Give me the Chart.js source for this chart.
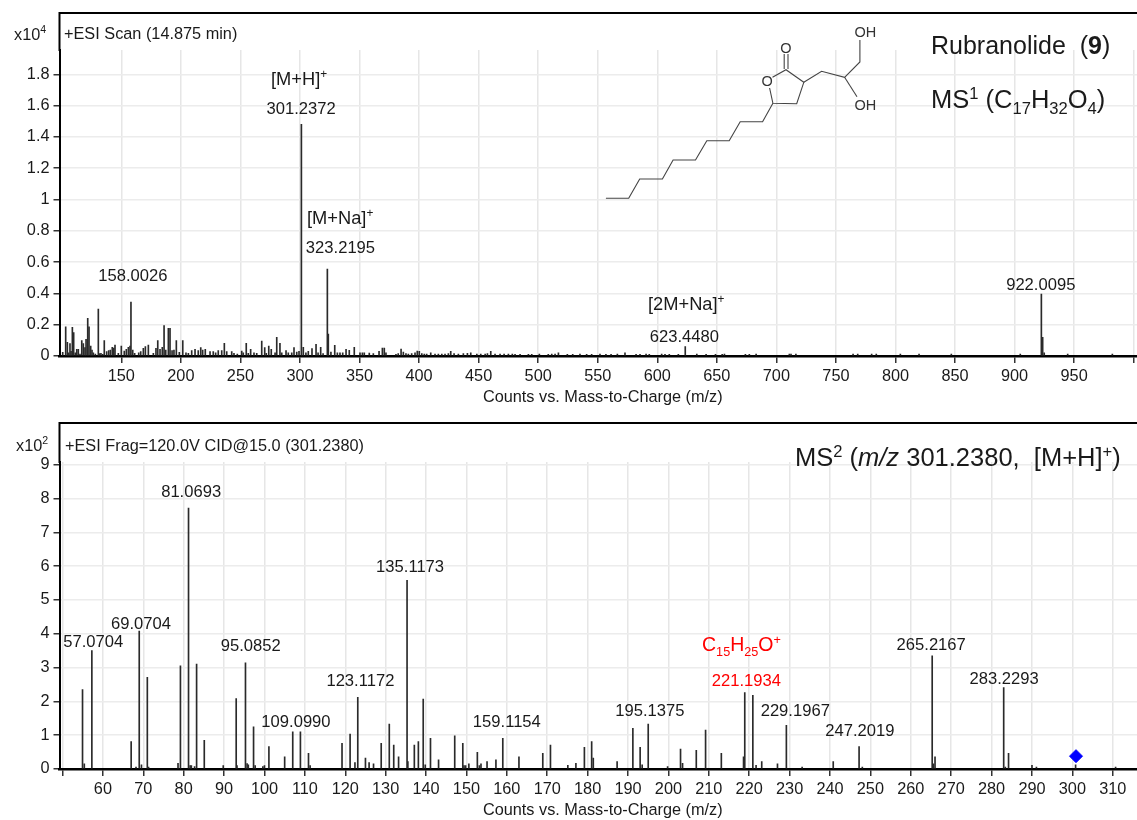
<!DOCTYPE html>
<html>
<head>
<meta charset="utf-8">
<title>Rubranolide (9)</title>
<script src="https://cdn.jsdelivr.net/npm/chart.js@4/dist/chart.umd.min.js"></script>
<style>
  html, body { margin: 0; padding: 0; background: #fff; }
  #page { position: relative; width: 1137px; height: 820px; overflow: hidden; font-family: "Liberation Sans", Arial, sans-serif; color: #1a1a1a; }
  canvas { position: absolute; left: 0; display: block; }
  .note { position: absolute; white-space: nowrap; transform: translateY(-50%); line-height: 1; }
  .note sup, .note sub { font-size: 65%; line-height: 0; }
  #structure { position: absolute; left: 0; top: 0; }
</style>
</head>
<body>
<div id="page">
  <canvas id="chartScan" width="1137" height="410" style="top:0"></canvas>
  <canvas id="chartFrag" width="1137" height="410" style="top:410px"></canvas>

  <svg id="structure" width="1137" height="410">
    <g fill="none" stroke="#444" stroke-width="1.1">
      <polyline points="605.9,198.3 628.7,198.3 639.7,179 662.4,179 673.1,160 695.5,160 706.8,140.7 729.2,140.7 740.2,121.7 762.6,121.7 772.9,103.3"/>
      <polyline points="769.6,88 772.9,103.3 796.7,103.7 803.8,82.3 786,69.7 772.5,77.3"/>
      <polyline points="803.8,82.3 821.6,71.3 844.6,77.3 859.9,62 859.9,40"/>
      <polyline points="844.6,77.3 857,96.7"/>
      <polyline points="784.2,69 784.2,54"/>
      <polyline points="788,69 788,54"/>
    </g>
    <g font-family="Liberation Sans, Arial, sans-serif" font-size="14.5" fill="#333" text-anchor="middle">
      <text x="767.2" y="86">O</text>
      <text x="786" y="53">O</text>
      <text x="865.3" y="37">OH</text>
      <text x="865.3" y="110">OH</text>
    </g>
  </svg>

  <div class="note" style="left:14px;top:34px;font-size:16.3px">x10<sup>4</sup></div>
  <div class="note" style="left:64px;top:33px;font-size:16.3px">+ESI Scan (14.875 min)</div>
  <div class="note" style="left:271px;top:79px;font-size:18.3px">[M+H]<sup>+</sup></div>
  <div class="note" style="left:307px;top:218px;font-size:18.3px">[M+Na]<sup>+</sup></div>
  <div class="note" style="left:648px;top:304px;font-size:18.3px">[2M+Na]<sup>+</sup></div>
  <div class="note" style="left:931px;top:45px;font-size:25px">Rubranolide&nbsp; (<b>9</b>)</div>
  <div class="note" style="left:931px;top:100px;font-size:25.5px">MS<sup>1</sup> (C<sub>17</sub>H<sub>32</sub>O<sub>4</sub>)</div>

  <div class="note" style="left:16px;top:445px;font-size:16.3px">x10<sup>2</sup></div>
  <div class="note" style="left:65px;top:445px;font-size:16.3px">+ESI Frag=120.0V CID@15.0 (301.2380)</div>
  <div class="note" style="left:795px;top:458px;font-size:25.5px">MS<sup>2</sup> (<i>m/z</i> 301.2380,&nbsp; [M+H]<sup>+</sup>)</div>
  <div class="note" style="left:702px;top:645px;font-size:19.5px;color:#ff0000">C<sub>15</sub>H<sub>25</sub>O<sup>+</sup></div>
</div>

<script>
// MS1 scan, counts are in x10^4
const scanMz = [
  100.8, 103.3, 104.7, 105.8, 106.9, 107.8, 108.9, 110, 111.4, 112.6, 113.9, 115.3, 116.8, 118.1, 119.5, 120.4, 121.8, 122.9, 124.3, 125.4,
  126.5, 128.2, 130.7, 131.5, 132.9, 134.4, 135.7, 137.7, 139.4, 140.8, 142.4, 143.6, 144.7, 147.5, 150, 152.5, 154.2, 155.9, 157.3, 158.1,
  159.6, 161.2, 164.6, 166.3, 168.5, 170.2, 172.7, 176.9, 179.1, 180.6, 182.5, 184.4, 185.9, 187.3, 189.5, 190.9, 192.6, 194.2, 196.2, 198.7,
  201.6, 204.3, 206.3, 209.1, 211.9, 214.6, 216.7, 218.3, 220.5, 224.5, 227.2, 229.2, 231.4, 234.3, 236.5, 238.5, 242.7, 244.6, 247.4, 251.1,
  252.4, 254.9, 256.6, 258.6, 261.4, 263.7, 267.9, 270.4, 271.7, 273.8, 275.9, 279.1, 280.5, 283.2, 284.7, 288.3, 290.2, 293.1, 295, 297.3,
  299.2, 301.2, 302.8, 305, 307, 310.1, 313.5, 315.2, 317.4, 319.4, 323, 323.8, 326, 329.2, 331.4, 333.6, 335.9, 338.7, 341.4, 345.6,
  350.4, 352.4, 354, 358.2, 361.6, 366.4, 369.2, 370.8, 372.2, 380.6, 382.5, 384.9, 386.8, 389, 391, 393.8, 396.6, 398.5, 400.2, 402.3,
  404.4, 406.4, 409.8, 413.4, 416.2, 419.1, 421.8, 424.6, 426.6, 429.4, 433, 437.2, 440.6, 443.4, 448.5, 451.8, 455.5, 457.4, 460.2, 463.8,
  468, 471.4, 475, 478.3, 480.6, 484.8, 491.8, 494.6, 501, 508.5, 511.4, 514.2, 517, 524.5, 529, 535.1, 540.7, 544.9, 551.9, 556.9,
  561.2, 566.5, 572.9, 582.2, 585.5, 590.6, 593.3, 603.7, 606.5, 610.1, 617.7, 623.5, 633.2, 641, 648.9, 654.5, 656.4, 674, 677.3, 683,
  710.9, 712.3, 716.4, 764.4, 768.3, 780, 783.9, 804.1, 819.8, 846.9, 904.8, 922.5, 923.6, 924.9, 944.6, 982.1
];
const scanCounts = [
  0.024, 0.187, 0.087, 0.02, 0.08, 0.03, 0.183, 0.149, 0.02, 0.043, 0.043, 0.012, 0.098, 0.08, 0.053, 0.106, 0.24, 0.187, 0.064, 0.038,
  0.02, 0.012, 0.3, 0.015, 0.017, 0.01, 0.098, 0.028, 0.034, 0.038, 0.055, 0.05, 0.07, 0.017, 0.064, 0.032, 0.043, 0.055, 0.064, 0.345,
  0.038, 0.017, 0.021, 0.028, 0.049, 0.06, 0.07, 0.017, 0.049, 0.098, 0.043, 0.055, 0.195, 0.038, 0.177, 0.177, 0.034, 0.038, 0.098, 0.023,
  0.098, 0.021, 0.017, 0.034, 0.043, 0.034, 0.053, 0.038, 0.043, 0.028, 0.028, 0.021, 0.034, 0.034, 0.081, 0.028, 0.028, 0.017, 0.013, 0.032,
  0.021, 0.081, 0.017, 0.043, 0.02, 0.017, 0.095, 0.053, 0.017, 0.064, 0.043, 0.021, 0.119, 0.081, 0.021, 0.034, 0.021, 0.021, 0.053, 0.025,
  0.03, 1.48, 0.055, 0.02, 0.03, 0.048, 0.075, 0.02, 0.055, 0.015, 0.556, 0.14, 0.025, 0.068, 0.02, 0.02, 0.02, 0.043, 0.036, 0.055,
  0.02, 0.02, 0.02, 0.018, 0.015, 0.03, 0.05, 0.05, 0.02, 0.01, 0.015, 0.045, 0.025, 0.015, 0.012, 0.015, 0.02, 0.032, 0.03, 0.015,
  0.012, 0.012, 0.02, 0.012, 0.012, 0.012, 0.013, 0.015, 0.03, 0.015, 0.012, 0.015, 0.017, 0.02, 0.012, 0.012, 0.012, 0.015, 0.03, 0.012,
  0.012, 0.012, 0.012, 0.012, 0.01, 0.01, 0.01, 0.01, 0.012, 0.01, 0.012, 0.012, 0.02, 0.01, 0.01, 0.012, 0.01, 0.01, 0.012, 0.01,
  0.01, 0.012, 0.02, 0.01, 0.01, 0.012, 0.01, 0.012, 0.01, 0.01, 0.01, 0.06, 0.012, 0.01, 0.01, 0.01, 0.012, 0.01, 0.01, 0.012,
  0.013, 0.013, 0.012, 0.012, 0.012, 0.012, 0.012, 0.012, 0.012, 0.012, 0.012, 0.396, 0.119, 0.02, 0.012, 0.012
];

// MS2 fragments, counts are in x10^2
const fragMz = [
  54.96, 55.4, 57.27, 67, 68.2, 69, 69.55, 71, 71.3, 78.6, 79.2, 81.2, 81.6, 81.9, 82.7, 83.2, 85.1, 89.8, 93, 93.2,
  95.3, 95.7, 96, 97.3, 97.7, 99.6, 100, 101.1, 105, 107, 108.9, 110.9, 111.3, 119.2, 121.2, 122.4, 123.1, 125, 125.9, 127,
  128.9, 130.9, 132, 133.2, 135.3, 135.5, 137.1, 138.1, 139.3, 139.8, 141.1, 143.1, 147.1, 149.1, 149.4, 149.8, 150.6, 152.7, 153.2, 153.6,
  155.1, 157.3, 159, 163, 168.9, 170.8, 175.1, 177.1, 179.2, 181, 181.4, 187.3, 191.2, 193, 193.5, 195, 199.8, 203, 203.5, 206.9,
  209.2, 213.1, 218.6, 218.9, 220.9, 221.7, 223.1, 227, 229.2, 233.1, 240.8, 247.2, 248, 265.3, 265.6, 266, 283, 283.4, 284.2, 290,
  291.1, 300.8, 310.7
];
const fragCounts = [
  2.35, 0.15, 3.5, 0.81, 0.06, 4.08, 0.12, 2.71, 0.06, 0.17, 3.05, 7.72, 0.1, 0.1, 0.07, 3.1, 0.85, 0.1, 2.08, 0.1,
  3.14, 0.16, 0.12, 1.25, 0.1, 0.07, 0.1, 0.66, 0.36, 1.1, 1.1, 0.46, 0.1, 0.76, 1.03, 0.19, 2.12, 0.32, 0.19, 0.15,
  0.76, 1.33, 0.71, 0.36, 5.58, 0.22, 0.71, 0.81, 2.07, 0.12, 0.91, 0.27, 0.98, 0.76, 0.1, 0.1, 0.15, 0.49, 0.1, 0.15,
  0.22, 0.27, 0.91, 0.36, 0.46, 0.71, 0.11, 0.17, 0.64, 0.81, 0.32, 0.22, 1.2, 0.64, 0.12, 1.33, 0.07, 0.59, 0.17, 0.55,
  1.15, 0.46, 0.36, 2.26, 2.18, 0.11, 0.22, 0.15, 1.29, 0.06, 0.22, 0.66, 0.06, 3.35, 0.15, 0.36, 2.41, 0.06, 0.46, 0.11,
  0.06, 0.12, 0.06
];

// precursor marker
const precursorMz = [300.9];
const precursorCounts = [0.38];

// peak labels, placed in axis units
const scanLabelText = ["158.0026", "301.2372", "323.2195", "623.4480", "922.0095"];
const scanLabelMz = [159.7, 301, 334, 622.7, 922];
const scanLabelCounts = [0.511, 1.578, 0.69, 0.121, 0.454];

const fragLabelText = ["57.0704", "69.0704", "81.0693", "95.0852", "109.0990", "123.1172", "135.1173", "159.1154", "195.1375", "221.1934", "229.1967", "247.2019", "265.2167", "283.2293"];
const fragLabelMz = [57.6, 69.43, 81.85, 96.6, 107.8, 123.75, 136.05, 160, 195.4, 219.3, 231.4, 247.4, 265.05, 283.1];
const fragLabelCounts = [3.74, 4.29, 8.19, 3.62, 1.39, 2.6, 5.97, 1.39, 1.71, 2.6, 1.71, 1.12, 3.66, 2.66];

// axis ticks
const scanXTicks = [150, 200, 250, 300, 350, 400, 450, 500, 550, 600, 650, 700, 750, 800, 850, 900, 950, 1000];
const scanYTicks = [0, 0.2, 0.4, 0.6, 0.8, 1, 1.2, 1.4, 1.6, 1.8];
const fragXTicks = [50, 60, 70, 80, 90, 100, 110, 120, 130, 140, 150, 160, 170, 180, 190, 200, 210, 220, 230, 240, 250, 260, 270, 280, 290, 300, 310];
const fragYTicks = [0, 1, 2, 3, 4, 5, 6, 7, 8, 9];

const FONT = "'Liberation Sans', Arial, sans-serif";
const AXIS_TITLE = "  Counts vs. Mass-to-Charge (m/z)";

const toPoints = (xs, ys) => xs.map((x, i) => ({ x: x, y: ys[i] }));

// frame line on top and the part of the y axis above the grid
const framePlugin = {
  id: "frame",
  afterDraw(chart) {
    const c = chart.ctx;
    c.save();
    c.strokeStyle = "#000";
    c.lineWidth = 2;
    c.beginPath();
    c.moveTo(chart.width, 13);
    c.lineTo(59.5, 13);
    c.lineTo(59.5, chart.chartArea.top + 1);
    c.stroke();
    c.restore();
  },
};

// peak m/z labels
const peakLabelPlugin = {
  id: "peakLabels",
  afterDatasetsDraw(chart, args, opts) {
    const c = chart.ctx;
    c.save();
    c.font = "16.6px " + FONT;
    c.textAlign = "center";
    c.textBaseline = "middle";
    opts.text.forEach((t, i) => {
      c.fillStyle = opts.red === t ? "#ff0000" : "#1a1a1a";
      c.fillText(t, chart.scales.x.getPixelForValue(opts.mz[i]), chart.scales.y.getPixelForValue(opts.counts[i]));
    });
    c.restore();
  },
};

function makeChart(id, o) {
  const datasets = [{
    type: "bar",
    data: toPoints(o.mz, o.counts),
    backgroundColor: "#2a2a2a",
    barThickness: 1,
    borderWidth: 0,
    order: 2,
  }];
  if (o.markerMz) {
    datasets.push({
      type: "scatter",
      data: toPoints(o.markerMz, o.markerCounts),
      pointStyle: "rectRot",
      pointRadius: 6.5,
      backgroundColor: "#0000ff",
      borderColor: "#0000ff",
      order: 1,
    });
  }
  return new Chart(document.getElementById(id), {
    data: { datasets },
    plugins: [framePlugin, peakLabelPlugin],
    options: {
      responsive: false,
      animation: false,
      devicePixelRatio: 1,
      layout: { autoPadding: false, padding: { top: o.gridTop, left: 0, right: 0, bottom: 0 } },
      plugins: {
        legend: { display: false },
        tooltip: { enabled: false },
        peakLabels: o.labels,
      },
      scales: {
        x: {
          type: "linear",
          offset: false,
          min: o.xMin,
          max: o.xMax,
          afterBuildTicks: (s) => { s.ticks = o.xTicks.map((v) => ({ value: v })); },
          // plot runs right up to the canvas edge, no room kept for the last label
          afterFit: (s) => {
            s.height = o.axisHeight;
            s.paddingLeft = 0;
            s.paddingRight = 0;
          },
          border: { color: "#000", width: 2.5 },
          grid: { offset: false, color: "#e6e6e6", lineWidth: 1.5, tickColor: "#333", tickLength: 7, tickWidth: 1.5 },
          ticks: {
            autoSkip: false,
            maxRotation: 0,
            minRotation: 0,
            padding: 4,
            color: "#1a1a1a",
            font: { family: FONT, size: 16.3 },
            callback: (v) => (v === o.blankTick ? "" : v),
          },
          title: {
            display: true,
            text: AXIS_TITLE,
            color: "#1a1a1a",
            font: { family: FONT, size: 16.3 },
            padding: { top: 0, bottom: o.titleGap },
          },
        },
        y: {
          min: 0,
          max: o.yMax,
          afterBuildTicks: (s) => { s.ticks = o.yTicks.map((v) => ({ value: v })); },
          afterFit: (s) => { s.width = 59.5; },
          border: { color: "#000", width: 2 },
          grid: { color: "#ececec", lineWidth: 1.5, tickColor: "#333", tickLength: 6, tickWidth: 1.5 },
          ticks: {
            autoSkip: false,
            padding: 4,
            color: "#1a1a1a",
            font: { family: FONT, size: 16.3 },
            callback: (v) => v,
          },
        },
      },
    },
  });
}

makeChart("chartScan", {
  mz: scanMz,
  counts: scanCounts,
  xMin: 98.1,
  xMax: 1002.8,
  yMax: 1.955,
  gridTop: 50,
  axisHeight: 54,
  titleGap: 3,
  xTicks: scanXTicks,
  yTicks: scanYTicks,
  blankTick: 1000,
  labels: { text: scanLabelText, mz: scanLabelMz, counts: scanLabelCounts },
});

makeChart("chartFrag", {
  mz: fragMz,
  counts: fragCounts,
  markerMz: precursorMz,
  markerCounts: precursorCounts,
  xMin: 49.26,
  xMax: 316,
  yMax: 9.08,
  gridTop: 52,
  axisHeight: 51,
  titleGap: 0,
  xTicks: fragXTicks,
  yTicks: fragYTicks,
  blankTick: 50,
  labels: { text: fragLabelText, mz: fragLabelMz, counts: fragLabelCounts, red: "221.1934" },
});
</script>
</body>
</html>
